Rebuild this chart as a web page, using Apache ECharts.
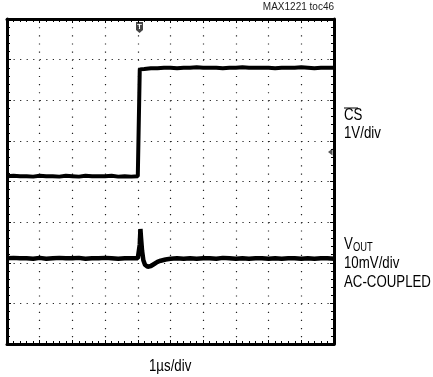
<!DOCTYPE html>
<html><head><meta charset="utf-8">
<script src="https://cdn.jsdelivr.net/npm/echarts@6/dist/echarts.min.js"></script>
<style>html,body{margin:0;padding:0;background:#fff}#c{width:433px;height:377px}</style>
</head><body><div id="c"></div>
<script>
// time in microseconds, levels in screen divisions (0 = bottom graticule line)
const csTime = [0,0.2,0.4,0.6,0.8,1,1.2,1.4,1.6,1.8,2,2.2,2.4,2.6,2.8,3,3.2,3.4,3.6,3.8,4,4.05,4.06,
  4.2,4.4,4.6,4.8,5,5.2,5.4,5.6,5.8,6,6.2,6.4,6.6,6.8,7,7.2,7.4,7.6,7.8,8,8.2,8.4,8.6,8.8,9,9.2,9.4,9.6,9.8,10];
const csLevel = [4.13,4.14,4.13,4.13,4.12,4.14,4.13,4.13,4.12,4.14,4.13,4.12,4.14,4.13,4.13,4.13,4.14,4.12,4.13,4.12,4.13,4.13,6.76,
  6.77,6.79,6.79,6.80,6.80,6.79,6.80,6.80,6.81,6.80,6.80,6.80,6.79,6.80,6.80,6.81,6.80,6.80,6.80,6.80,6.79,6.80,6.80,6.80,6.81,6.80,6.79,6.80,6.80,6.80];
const voutTime = [0,0.2,0.4,0.6,0.8,1,1.2,1.4,1.6,1.8,2,2.2,2.4,2.6,2.8,3,3.2,3.4,3.6,3.8,4,
  4.03,4.06,4.08,4.1,4.13,4.17,4.22,4.3,4.4,4.5,4.6,4.7,4.85,
  5,5.2,5.4,5.6,5.8,6,6.2,6.4,6.6,6.8,7,7.2,7.4,7.6,7.8,8,8.2,8.4,8.6,8.8,9,9.2,9.4,9.6,9.8,10];
const voutLevel = [2.11,2.12,2.11,2.11,2.10,2.12,2.10,2.11,2.12,2.11,2.11,2.12,2.10,2.11,2.11,2.12,2.11,2.10,2.11,2.11,2.11,
  2.12,2.45,2.83,2.60,2.30,2.06,1.95,1.90,1.92,1.97,2.02,2.05,2.08,
  2.10,2.11,2.10,2.11,2.10,2.11,2.11,2.10,2.12,2.11,2.10,2.11,2.10,2.11,2.11,2.10,2.11,2.10,2.11,2.11,2.10,2.11,2.10,2.11,2.11,2.10];
const xDivisions = [0, 10, 1];   // min, max, interval (µs)
const yDivisions = [0, 8, 1];    // min, max, interval (div)
const labelCS = ['CS', '1V/div'];
const labelVout = ['V', 'OUT', '10mV/div', 'AC-COUPLED'];
const xTitle = '1\u00b5s/div';
const noteText = 'MAX1221 toc46';

const FONT = '"Liberation Sans", Arial, sans-serif';
const SX = 0.78;
const chart = echarts.init(document.getElementById('c'), null, {renderer: 'canvas'});

function xAx(pos, grid) {
  return {type: 'value', position: pos, min: xDivisions[0], max: xDivisions[1], interval: xDivisions[2],
    axisLine: {show: true, onZero: false, lineStyle: {color: '#000', width: 3}},
    axisTick: {show: true, inside: true, length: 4, lineStyle: {color: '#000', width: 1}},
    minorTick: {show: true, splitNumber: 5, length: 3, lineStyle: {color: '#000', width: 1}},
    axisLabel: {show: false},
    splitLine: {show: grid, lineStyle: {color: '#222', width: 1.2, type: [1.2, 6.93]}}};
}
function yAx(pos, grid) {
  return {type: 'value', position: pos, min: yDivisions[0], max: yDivisions[1], interval: yDivisions[2],
    axisLine: {show: true, onZero: false, lineStyle: {color: '#000', width: 3}},
    axisTick: {show: true, inside: true, length: 4, lineStyle: {color: '#000', width: 1}},
    minorTick: {show: true, splitNumber: 5, length: 3, lineStyle: {color: '#000', width: 1}},
    axisLabel: {show: false},
    splitLine: {show: grid, lineStyle: {color: '#222', width: 1.2, type: [1.2, 5.34]}}};
}
function txt(s, x, y, size) {
  return {type: 'text', x: x, y: y, scaleX: SX,
    style: {text: s, font: size + 'px ' + FONT, fill: '#000', textVerticalAlign: 'top'}};
}

chart.setOption({
  animation: false,
  backgroundColor: '#fff',
  grid: {left: 7, top: 19, width: 327, height: 325, show: false},
  xAxis: [xAx('bottom', true), xAx('top', false)],
  yAxis: [yAx('left', true), yAx('right', false)],
  series: [
    {type: 'line', xAxisIndex: 0, yAxisIndex: 0, symbol: 'none',
     lineStyle: {color: '#000', width: 4},
     data: csTime.map((t, i) => [t, csLevel[i]])},
    {type: 'line', xAxisIndex: 0, yAxisIndex: 0, symbol: 'none',
     lineStyle: {color: '#000', width: 4.5},
     data: voutTime.map((t, i) => [t, voutLevel[i]])}
  ],
  graphic: [
    {type: 'text', right: 433 - 334, top: 2, style: {text: noteText, font: '10px ' + FONT, fill: '#222'}},
    txt(labelCS[0], 344, 107, 17),
    {type: 'line', shape: {x1: 344, y1: 108, x2: 358, y2: 108}, style: {stroke: '#000', lineWidth: 1}},
    txt(labelCS[1], 344, 125, 17),
    txt(labelVout[0], 344, 236, 17),
    txt(labelVout[1], 353, 242, 12),
    txt(labelVout[2], 344, 255, 17),
    txt(labelVout[3], 344, 274, 17),
    txt(xTitle, 149, 358, 17),
    {type: 'polygon', shape: {points: [[136, 22], [143, 22], [143, 30], [139.5, 33], [136, 30]]}, style: {fill: '#444'}},
    {type: 'text', x: 139.5, y: 23, style: {text: 'T', font: 'bold 8px ' + FONT, fill: '#fff', textAlign: 'center', textVerticalAlign: 'top'}},
    {type: 'polygon', shape: {points: [[328, 152], [332.5, 148.5], [332.5, 155.5]]}, style: {fill: '#555'}}
  ]
});
</script></body></html>
